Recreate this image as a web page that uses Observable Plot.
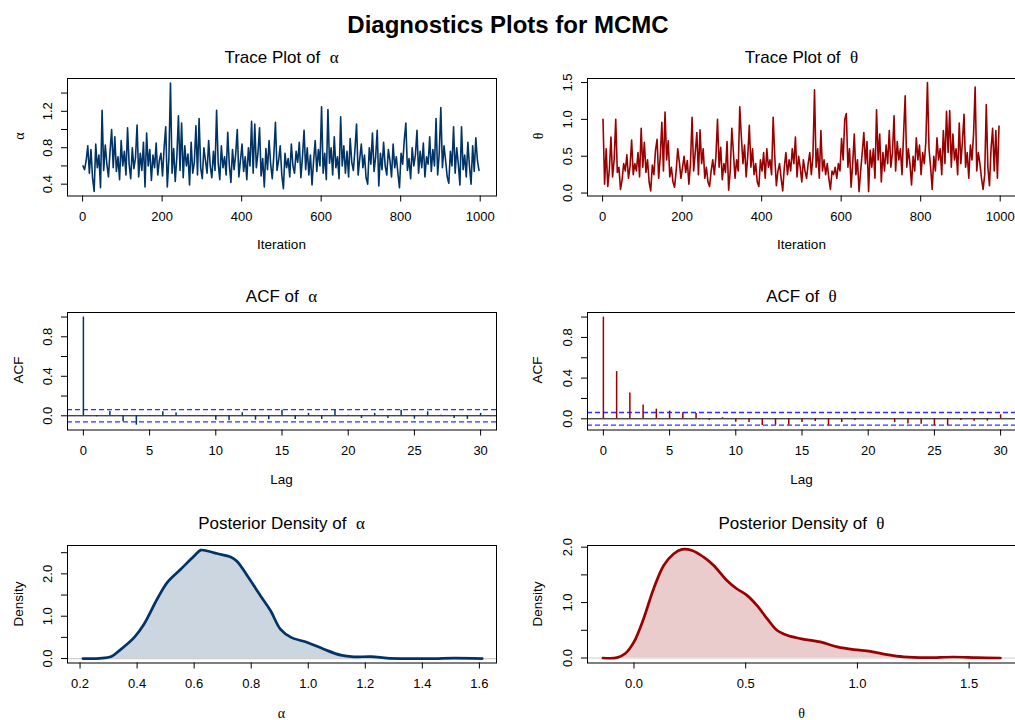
<!DOCTYPE html>
<html><head><meta charset="utf-8">
<script src="https://cdn.jsdelivr.net/npm/d3@7"></script>
<script src="https://cdn.jsdelivr.net/npm/@observablehq/plot@0.6"></script>
<style>
body{margin:0;overflow:hidden;background:#fff;font-family:"Liberation Sans",Arial,sans-serif;}
#root{position:relative;width:1015px;height:720px;overflow:hidden;}
#root svg{position:absolute;overflow:visible;}
.t{position:absolute;white-space:nowrap;transform:translate(-50%,-50%);color:#000;line-height:1;}
.rot{transform:translate(-50%,-50%) rotate(-90deg);}
.sym{font-family:"Liberation Serif","DejaVu Serif",serif;}
</style></head><body><div id="root"></div>
<script>
// ---------- data ----------
const thinStep = 4; // one value kept every 4 iterations
const alphaTrace = [
0.60,0.56,0.66,0.82,0.52,0.78,0.47,0.32,0.84,0.58,
0.72,0.36,1.21,0.55,0.83,0.62,0.48,0.76,1.00,0.58,
0.92,0.54,0.70,0.45,0.88,0.60,0.76,0.50,1.02,0.62,
0.46,0.80,0.57,0.69,1.05,0.48,0.74,0.55,0.86,0.37,
0.96,0.60,0.78,0.44,0.72,0.58,0.85,0.50,0.66,0.74,
0.49,0.80,1.03,0.37,0.68,1.51,0.52,0.79,0.43,0.70,
1.15,0.55,1.07,0.47,0.82,0.60,0.73,0.39,0.86,0.52,
0.64,1.04,0.50,1.12,0.58,0.46,0.80,0.66,0.52,0.88,
0.60,0.47,0.76,0.55,1.21,0.63,0.45,0.82,0.58,0.70,
0.50,0.97,0.61,0.42,0.78,0.56,0.73,1.00,0.48,0.66,
0.84,0.54,0.70,0.45,0.80,0.60,1.09,0.52,1.06,0.58,
0.74,1.02,0.49,0.68,0.37,0.79,0.56,0.88,0.62,0.46,
0.72,1.08,0.55,0.66,0.82,0.50,0.35,0.74,0.58,0.68,
0.48,0.84,0.60,0.52,0.76,0.64,0.86,0.47,0.70,0.99,
0.56,0.80,0.50,0.72,0.39,0.66,0.88,0.54,0.78,0.60,
1.25,0.52,0.74,0.45,1.22,0.63,0.80,0.50,0.92,0.58,
0.70,0.46,1.14,0.60,0.82,0.52,0.76,0.48,0.90,0.64,
0.55,0.78,1.06,0.50,0.68,0.84,0.58,0.72,0.47,0.40,
0.80,0.62,0.96,0.54,0.70,0.99,0.38,0.74,0.56,0.86,
0.60,0.50,0.78,0.66,0.48,0.84,0.58,0.70,0.52,0.36,
0.74,0.62,0.88,1.07,0.55,0.68,0.46,0.80,0.60,0.72,
0.99,0.52,0.76,0.58,0.85,0.48,0.70,0.62,0.92,0.54,
0.78,0.60,1.12,0.50,0.74,1.24,0.58,0.82,0.66,0.48,
0.41,0.76,0.60,1.03,0.52,0.80,0.62,0.39,1.03,0.56,
0.72,0.48,0.86,0.60,0.40,0.82,0.54,0.91,0.66,0.55];
const thetaTrace = [
1.00,0.12,0.60,0.09,0.32,0.76,0.22,0.45,1.00,0.28,
0.35,0.05,0.18,0.40,0.30,0.52,0.20,0.36,0.72,0.25,
0.40,0.30,0.55,0.22,0.88,0.35,0.69,0.28,0.45,0.15,
0.03,0.38,0.25,0.58,0.73,0.20,0.50,0.96,0.30,1.10,
0.45,0.71,0.22,0.35,0.15,0.08,0.30,0.60,0.42,0.20,
0.35,0.50,0.28,0.44,0.12,0.40,1.03,0.30,0.55,0.82,
0.25,0.86,0.40,0.60,0.20,0.35,0.15,0.09,0.30,0.45,
0.25,0.50,1.00,0.35,0.62,0.18,0.40,0.28,0.70,0.04,
0.30,0.88,0.55,0.20,0.45,0.30,1.17,0.76,0.40,0.65,
0.22,0.50,0.92,0.35,0.60,0.25,0.40,0.15,0.09,0.45,
0.30,0.55,0.20,0.60,0.35,0.45,0.25,1.03,0.50,0.10,
0.30,0.40,0.20,0.03,0.35,0.55,0.25,0.45,0.30,0.60,
0.40,0.76,0.22,0.50,0.35,0.15,0.45,0.30,0.20,0.40,
0.55,0.25,0.50,1.40,0.35,0.60,0.20,0.85,0.30,0.45,
0.25,0.40,0.20,0.05,0.30,0.25,0.35,0.20,0.40,0.30,
0.74,0.45,1.00,1.08,0.35,0.60,0.08,0.40,0.80,0.25,
0.45,0.02,0.30,0.55,0.82,0.40,0.70,0.02,0.58,0.35,
0.60,0.20,1.13,0.45,0.80,0.15,0.55,0.30,0.65,0.40,
0.85,0.35,0.55,1.05,0.30,0.70,0.45,0.60,0.25,0.80,
1.32,0.35,0.60,0.40,0.11,0.50,0.30,0.75,0.45,0.65,
0.25,0.55,0.40,0.70,1.50,0.60,0.35,0.05,0.50,0.30,
0.75,0.45,0.60,0.25,0.85,0.40,1.11,0.55,1.12,0.35,
0.80,0.45,0.60,0.25,0.95,0.40,0.70,1.07,0.35,0.55,
0.20,0.65,0.45,0.80,1.44,0.30,0.55,0.40,0.20,0.05,
0.25,1.20,0.35,0.10,0.60,0.88,0.30,0.85,0.20,0.91];

const acfLags = [0,1,2,3,4,5,6,7,8,9,10,11,12,13,14,15,16,17,18,19,20,21,22,23,24,25,26,27,28,29,30];
const acfAlpha = [1.0,-0.01,0.044,-0.06,-0.095,-0.005,0.04,0.027,-0.005,0.003,-0.044,-0.05,0.03,-0.044,-0.04,0.057,-0.037,0.024,-0.037,0.054,0.005,-0.027,0.024,-0.027,0.057,-0.034,0.04,0.005,-0.027,-0.037,0.024];
const acfTheta = [1.0,0.464,0.253,0.135,0.095,0.076,0.059,0.053,-0.016,0.01,-0.033,-0.036,-0.066,-0.063,-0.063,-0.036,-0.026,-0.066,-0.036,-0.016,-0.007,-0.003,-0.036,-0.05,-0.053,-0.066,-0.066,-0.016,-0.023,-0.023,0.04];
const ciBound = 0.062;

const densAlphaX = [0.21,0.27,0.31,0.34,0.39,0.424,0.47,0.506,0.553,0.60,0.623,0.646,0.68,0.728,0.75,0.787,0.833,0.868,0.903,0.94,0.997,1.055,1.114,1.16,1.22,1.277,1.324,1.44,1.51,1.61];
const densAlphaY = [0.0,0.005,0.05,0.2,0.5,0.81,1.4,1.8,2.11,2.42,2.56,2.54,2.48,2.4,2.3,1.95,1.48,1.13,0.69,0.5,0.38,0.22,0.08,0.04,0.047,0.01,0.0,0.0,0.01,0.0];
const densThetaX = [-0.139,-0.076,-0.039,0.0,0.043,0.088,0.133,0.178,0.215,0.26,0.312,0.357,0.416,0.46,0.506,0.55,0.596,0.64,0.685,0.745,0.834,0.91,0.984,1.058,1.133,1.207,1.31,1.43,1.536,1.64];
const densThetaY = [0,0.006,0.08,0.29,0.71,1.25,1.67,1.88,1.96,1.94,1.82,1.67,1.4,1.25,1.13,0.95,0.71,0.5,0.41,0.35,0.29,0.2,0.15,0.12,0.06,0.02,0.006,0.018,0.006,0];

const traceTicksX = [0,200,400,600,800,1000];
const lagTicksX = [0,5,10,15,20,25,30];
const alphaTraceTicksY = [0.4,0.6,0.8,1.0,1.2,1.4];
const alphaTraceLabelsY = [0.4,0.8,1.2];
const thetaTraceTicksY = [0,0.5,1.0,1.5];
const acfTicksY = [0,0.2,0.4,0.6,0.8,1.0];
const acfLabelsY = [0,0.4,0.8];
const densAlphaTicksX = [0.2,0.4,0.6,0.8,1.0,1.2,1.4,1.6];
const densAlphaTicksY = [0,0.5,1.0,1.5,2.0,2.5];
const densThetaTicksX = [0,0.5,1.0,1.5];
const densThetaTicksY = [0,0.5,1.0,1.5,2.0];
const densLabelsY = [0,1,2];

const colA = "#003366", colT = "#990000";

// ---------- layout ----------
const root = document.getElementById("root");
const MT = 40, MB = 70, PH = 117.5;
const cols = [{left:0, width:507, ml:67, mr:11}, {left:507, width:509, ml:80, mr:0}];
const rowTops = [77.7, 311.7, 545];
const f1 = d3.format(".1f");

function panel(c, r, o) {
  const C = cols[c];
  const svg = Plot.plot({
    width: C.width, height: PH + MT + MB,
    marginLeft: C.ml, marginRight: C.mr, marginTop: MT, marginBottom: MB,
    x: {domain: o.xDomain}, y: {domain: o.yDomain},
    style: {fontFamily: '"Liberation Sans", Arial, sans-serif', fontSize: "13px", color: "#000", background: "transparent"},
    marks: [
      ...o.marks,
      Plot.frame({stroke: "#000", strokeWidth: 1}),
      Plot.axisX(o.xTicks, {tickSize: 6, tickPadding: 10, tickFormat: o.xFmt, label: null, fontSize: 13}),
      Plot.axisY(o.yTicks, {tickSize: 6, fill: "none", label: null}),
      Plot.text(o.yLabels, {y: d => d, text: d => f1(d), frameAnchor: "left", dx: -20, rotate: -90, textAnchor: "middle", lineAnchor: "middle", fontSize: 13})
    ]
  });
  svg.style.left = C.left + "px";
  svg.style.top = (rowTops[r] - MT) + "px";
  root.appendChild(svg);
}

function label(html, x, y, size, cls = "") {
  const d = document.createElement("div");
  d.className = "t " + cls;
  d.style.left = x + "px"; d.style.top = y + "px"; d.style.fontSize = size + "px";
  d.innerHTML = html;
  root.appendChild(d);
}

const trA = alphaTrace.map((v, i) => ({it: 1 + i * thinStep, v}));
const trT = thetaTrace.map((v, i) => ({it: 1 + i * thinStep, v}));
const acA = acfLags.map((l, i) => ({lag: l, acf: acfAlpha[i]}));
const acT = acfLags.map((l, i) => ({lag: l, acf: acfTheta[i]}));
const dnA = densAlphaX.map((x, i) => ({x, y: densAlphaY[i]}));
const dnT = densThetaX.map((x, i) => ({x, y: densThetaY[i]}));

panel(0, 0, {xDomain: [-38, 1041], yDomain: [0.27, 1.56], xTicks: traceTicksX, xFmt: d3.format("d"),
  yTicks: alphaTraceTicksY, yLabels: alphaTraceLabelsY,
  marks: [Plot.lineY(trA, {x: "it", y: "v", stroke: colA, strokeWidth: 1.6})]});
panel(1, 0, {xDomain: [-38, 1041], yDomain: [-0.04, 1.555], xTicks: traceTicksX, xFmt: d3.format("d"),
  yTicks: thetaTraceTicksY, yLabels: thetaTraceTicksY,
  marks: [Plot.lineY(trT, {x: "it", y: "v", stroke: colT, strokeWidth: 1.6})]});

function acfMarks(data, col) {
  return [
    Plot.ruleY([0], {stroke: "#000", strokeWidth: 1}),
    Plot.ruleY([ciBound, -ciBound], {y: d => d, stroke: "#2f2fff", strokeWidth: 1.3, strokeDasharray: "5,3"}),
    Plot.ruleX(data, {x: "lag", y1: 0, y2: "acf", stroke: col, strokeWidth: 1.5})
  ];
}
panel(0, 1, {xDomain: [-1.2, 31.2], yDomain: [-0.144, 1.046], xTicks: lagTicksX, xFmt: d3.format("d"),
  yTicks: acfTicksY, yLabels: acfLabelsY, marks: acfMarks(acA, colA)});
panel(1, 1, {xDomain: [-1.2, 31.2], yDomain: [-0.11, 1.045], xTicks: lagTicksX, xFmt: d3.format("d"),
  yTicks: acfTicksY, yLabels: acfLabelsY, marks: acfMarks(acT, colT)});

function densMarks(data, col) {
  return [
    Plot.areaY(data, {x: "x", y: "y", fill: col, fillOpacity: 0.2, curve: "catmull-rom"}),
    Plot.ruleY([0], {stroke: "#cfcfcf", strokeWidth: 1.2}),
    Plot.lineY(data, {x: "x", y: "y", stroke: col, strokeWidth: 2.7, curve: "catmull-rom"})
  ];
}
panel(0, 2, {xDomain: [0.156, 1.66], yDomain: [-0.105, 2.67], xTicks: densAlphaTicksX, xFmt: f1,
  yTicks: densAlphaTicksY, yLabels: densLabelsY, marks: densMarks(dnA, colA)});
panel(1, 2, {xDomain: [-0.208, 1.712], yDomain: [-0.09, 2.03], xTicks: densThetaTicksX, xFmt: f1,
  yTicks: densThetaTicksY, yLabels: densLabelsY, marks: densMarks(dnT, colT)});

// ---------- text ----------
label("<b>Diagnostics Plots for MCMC</b>", 508, 25, 24);
const cx = [281.5, 801.5], yl = [19, 538];
const titleY = [57, 296, 523], xlabY = [245, 480, 713], midY = rowTops.map(t => t + PH / 2);
const A = '<span class="sym">α</span>', T = '<span class="sym">θ</span>';
label("Trace Plot of&nbsp; " + A, cx[0], titleY[0], 17);
label("Trace Plot of&nbsp; " + T, cx[1], titleY[0], 17);
label("ACF of&nbsp; " + A, cx[0], titleY[1], 17);
label("ACF of&nbsp; " + T, cx[1], titleY[1], 17);
label("Posterior Density of&nbsp; " + A, cx[0], titleY[2], 17);
label("Posterior Density of&nbsp; " + T, cx[1], titleY[2], 17);
label("Iteration", cx[0], xlabY[0], 13.5); label("Iteration", cx[1], xlabY[0], 13.5);
label("Lag", cx[0], xlabY[1], 13.5); label("Lag", cx[1], xlabY[1], 13.5);
label(A, cx[0], xlabY[2], 14); label(T, cx[1], xlabY[2], 14);
label(A, yl[0], midY[0], 14, "rot"); label(T, yl[1], midY[0], 14, "rot");
label("ACF", yl[0], midY[1], 13.5, "rot"); label("ACF", yl[1], midY[1], 13.5, "rot");
label("Density", yl[0], midY[2], 13.5, "rot"); label("Density", yl[1], midY[2], 13.5, "rot");
</script></body></html>
